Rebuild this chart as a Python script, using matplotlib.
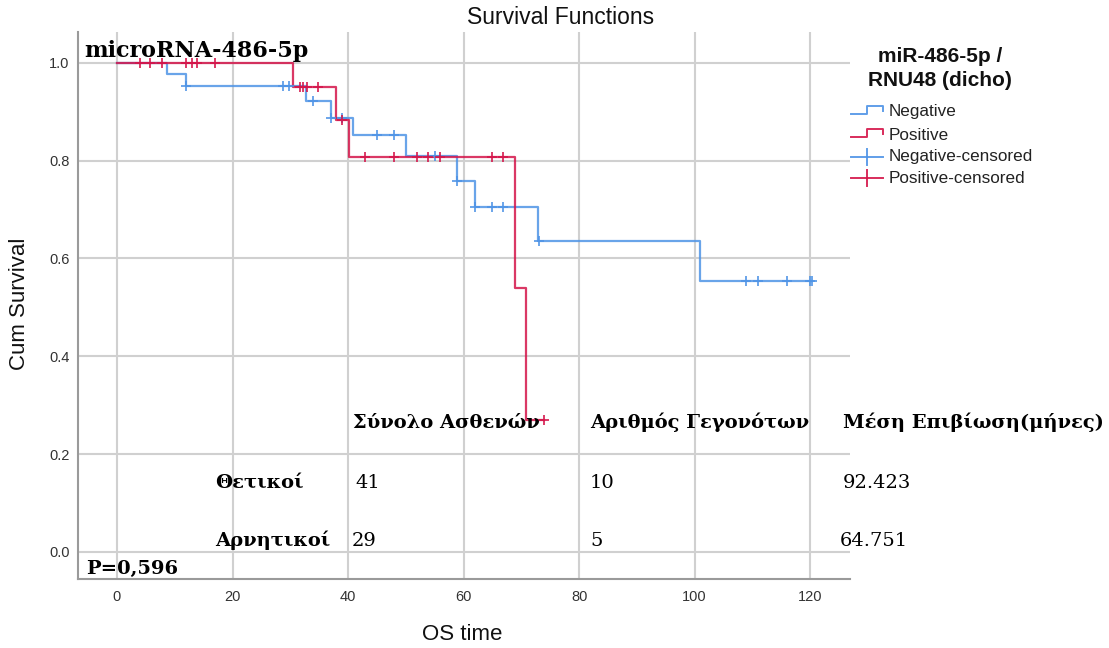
import numpy as np
import matplotlib
matplotlib.use("Agg")
import matplotlib.pyplot as plt
from matplotlib.lines import Line2D

# Kaplan-Meier estimates: step times (months) and cumulative survival after each step
neg_times = [0, 8.7, 11.9, 32.8, 37.0, 40.9, 50.0, 58.8, 61.9, 72.9, 101.0]
neg_surv = [1.0, 0.978, 0.952, 0.921, 0.888, 0.853, 0.810, 0.759, 0.705, 0.635, 0.555]
neg_end = 120.3
neg_censored = [12.0, 28.8, 29.7, 33.9, 37.0, 38.9, 45.0, 48.0, 55.0, 58.9,
                61.9, 64.9, 66.9, 73.0, 108.9, 110.9, 116.0, 120.0, 120.3]

pos_times = [0, 30.5, 38.0, 40.1, 68.9, 70.8]
pos_surv = [1.0, 0.950, 0.884, 0.808, 0.540, 0.270]
pos_end = 74.0
pos_censored = [4.0, 5.8, 7.8, 12.0, 12.9, 13.8, 17.0,
                31.7, 32.2, 32.9, 34.8, 38.9,
                43.0, 48.0, 52.0, 53.9, 55.9, 65.0, 66.9, 74.0]

group_labels = ["Negative", "Positive"]
legend_title = ["miR-486-5p /", "RNU48 (dicho)"]

# summary table written over the plot
table_header = ["Σύνολο Ασθενών", "Αριθμός Γεγονότων", "Μέση Επιβίωση(μήνες)"]
table_rows = ["Θετικοί", "Αρνητικοί"]
table_total = ["41", "29"]
table_events = ["10", "5"]
table_mean = ["92.423", "64.751"]
p_value_text = "P=0,596"
marker_name = "microRNA-486-5p"

x_ticks = [0, 20, 40, 60, 80, 100, 120]
y_ticks = [0.0, 0.2, 0.4, 0.6, 0.8, 1.0]

BLUE = "#4f94e6"
RED = "#d4154a"
W, H = 1109, 648

plt.rcParams["font.family"] = ["Liberation Sans", "DejaVu Sans"]

fig = plt.figure(figsize=(W / 100, H / 100), dpi=100)
ax = fig.add_axes([78 / W, 1 - 579 / H, (850 - 78) / W, (579 - 32) / H])


def surv_at(times, surv, t):
    idx = np.searchsorted(times, t, side="right") - 1
    return np.asarray(surv)[idx]


for times, surv, end, cens, col in [
    (neg_times, neg_surv, neg_end, neg_censored, BLUE),
    (pos_times, pos_surv, pos_end, pos_censored, RED),
]:
    xs = list(times) + [end]
    ys = list(surv) + [surv[-1]]
    ax.step(xs, ys, where="post", color=col, lw=1.6, alpha=0.85, zorder=3)
    ax.plot(cens, surv_at(times, surv, np.array(cens)), ls="none", marker="+",
            ms=7, mew=1.3, color=col, alpha=0.9, zorder=4)

ax.set_xlim(-6.75, 126.9)
ax.set_ylim(-0.0552, 1.063)
ax.set_xticks(x_ticks)
ax.set_yticks(y_ticks)
ax.set_xticklabels([str(v) for v in x_ticks])
ax.set_yticklabels([f"{v:.1f}" for v in y_ticks])
ax.grid(True, color="#d0d0d0", lw=1.5, zorder=0)
ax.set_axisbelow(True)
for s in ["top", "right"]:
    ax.spines[s].set_visible(False)
for s in ["left", "bottom"]:
    ax.spines[s].set_color("#9a9a9a")
    ax.spines[s].set_linewidth(1.5)
ax.tick_params(axis="both", length=0, labelsize=10.5, labelcolor="#333333")
ax.tick_params(axis="x", pad=8)
ax.tick_params(axis="y", pad=6)


def fx(px):
    return px / W


def fy(py):
    return 1 - py / H


fig.text(fx(561), fy(18), "Survival Functions", ha="center", va="center",
         fontsize=16.5, color="#111111")
fig.text(fx(20), fy(304), "Cum Survival", ha="center", va="center",
         rotation=90, fontsize=16, color="#111111")
fig.text(fx(462), fy(635), "OS time", ha="center", va="center",
         fontsize=16, color="#111111")

# legend: title, step glyphs for curves and crosses for censored cases
fig.text(fx(940), fy(57), legend_title[0], ha="center", va="center",
         fontsize=15, fontweight="bold", color="#111111")
fig.text(fx(940), fy(80), legend_title[1], ha="center", va="center",
         fontsize=15, fontweight="bold", color="#111111")

leg_rows = [111.7, 135, 156.7, 178.3]
leg_cols = [BLUE, RED, BLUE, RED]
leg_labels = group_labels + [g + "-censored" for g in group_labels]
for i, (yc, col, lab) in enumerate(zip(leg_rows, leg_cols, leg_labels)):
    if i < 2:
        xs = [851, 867, 867, 883, 883]
        ys = [yc + 2, yc + 2, yc - 6, yc - 6, yc - 1]
        fig.add_artist(Line2D([fx(v) for v in xs], [fy(v) for v in ys],
                              transform=fig.transFigure, color=col, lw=1.4,
                              alpha=0.9))
    else:
        fig.add_artist(Line2D([fx(851), fx(883)], [fy(yc), fy(yc)],
                              transform=fig.transFigure, color=col, lw=1.4,
                              alpha=0.9))
        fig.add_artist(Line2D([fx(867), fx(867)], [fy(yc - 8), fy(yc + 8)],
                              transform=fig.transFigure, color=col, lw=1.4,
                              alpha=0.9))
    fig.text(fx(889), fy(yc), lab, ha="left", va="center", fontsize=12.3,
             color="#222222")

serif = ["DejaVu Serif"]


def put(px, py, s, bold=True, size=14):
    fig.text(fx(px), fy(py), s, ha="left", va="baseline", family=serif,
             fontsize=size, fontweight="bold" if bold else "normal",
             color="#000000", zorder=10)


put(84, 57, marker_name, size=16)
put(86, 574, p_value_text, size=14)
for xpos, txt in zip([353, 590, 843], table_header):
    put(xpos, 428, txt)
row_y = [488, 546]
for i, name in enumerate(table_rows):
    put(215, row_y[i], name)
    put([355, 352][i], row_y[i], table_total[i], bold=False)
    put(590, row_y[i], table_events[i], bold=False)
    put([843, 840][i], row_y[i], table_mean[i], bold=False)

fig.savefig("out.png", dpi=100)
